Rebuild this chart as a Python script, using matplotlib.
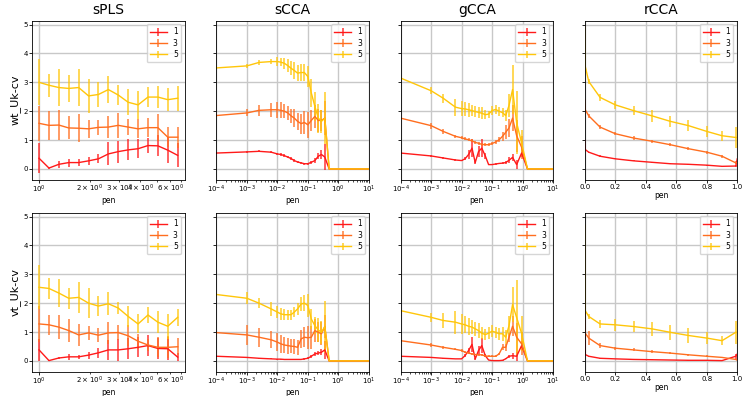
import numpy as np
import matplotlib
matplotlib.use("Agg")
from matplotlib import pyplot as plt

# pen grids for each method
pen_spls = [1.0, 1.145, 1.311, 1.501, 1.719, 1.968, 2.253, 2.58, 2.954, 3.382, 3.873, 4.434, 5.077, 5.813, 6.656]
pen_scca = [1e-4, 1e-3, 2.5e-3, 6.3e-3, 0.01, 0.013, 0.017, 0.022, 0.028, 0.036, 0.046, 0.06, 0.077, 0.1,
            0.13, 0.17, 0.22, 0.28, 0.36, 0.5, 1.0, 10.0]
pen_gcca = [1e-4, 1e-3, 2.5e-3, 6.3e-3, 0.01, 0.013, 0.017, 0.022, 0.028, 0.036, 0.046, 0.06, 0.077, 0.1,
            0.13, 0.17, 0.22, 0.28, 0.36, 0.47, 0.64, 0.93, 1.45, 10.0]
pen_rcca = [0.0, 0.003, 0.026, 0.1, 0.2, 0.32, 0.44, 0.56, 0.68, 0.8, 0.9, 0.99, 1.0]

# sPLS, wt_Uk-cv
spls_wt_1 = [0.37, 0.03, 0.16, 0.22, 0.22, 0.28, 0.35, 0.52, 0.6, 0.66, 0.7, 0.81, 0.8, 0.65, 0.47]
spls_wt_1_err = [0.52, 0.02, 0.12, 0.14, 0.12, 0.15, 0.16, 0.4, 0.38, 0.36, 0.32, 0.26, 0.36, 0.45, 0.42]
spls_wt_3 = [1.58, 1.51, 1.52, 1.42, 1.41, 1.39, 1.44, 1.45, 1.51, 1.45, 1.39, 1.43, 1.43, 1.1, 1.1]
spls_wt_3_err = [0.6, 0.5, 0.51, 0.4, 0.49, 0.31, 0.25, 0.38, 0.43, 0.29, 0.33, 0.33, 0.46, 0.34, 0.37]
spls_wt_5 = [3.0, 2.9, 2.82, 2.79, 2.82, 2.53, 2.58, 2.75, 2.56, 2.31, 2.22, 2.49, 2.49, 2.4, 2.45]
spls_wt_5_err = [0.8, 0.4, 0.63, 0.48, 0.64, 0.58, 0.43, 0.46, 0.35, 0.45, 0.49, 0.36, 0.39, 0.39, 0.44]

# sPLS, vt_Uk-cv
spls_vt_1 = [0.38, 0.01, 0.1, 0.14, 0.14, 0.2, 0.28, 0.38, 0.38, 0.42, 0.47, 0.53, 0.43, 0.42, 0.13]
spls_vt_1_err = [0.38, 0.02, 0.05, 0.1, 0.07, 0.12, 0.17, 0.36, 0.37, 0.36, 0.35, 0.35, 0.38, 0.4, 0.15]
spls_vt_3 = [1.28, 1.25, 1.17, 1.05, 0.9, 0.97, 0.89, 0.97, 0.98, 0.87, 0.68, 0.55, 0.47, 0.47, 0.49]
spls_vt_3_err = [0.62, 0.34, 0.42, 0.39, 0.39, 0.25, 0.25, 0.38, 0.26, 0.36, 0.26, 0.22, 0.35, 0.38, 0.3]
spls_vt_5 = [2.55, 2.51, 2.35, 2.17, 2.2, 2.0, 1.9, 1.98, 1.83, 1.54, 1.28, 1.59, 1.34, 1.2, 1.51]
spls_vt_5_err = [0.76, 0.35, 0.5, 0.36, 0.54, 0.51, 0.36, 0.4, 0.2, 0.36, 0.33, 0.27, 0.38, 0.44, 0.29]

# sCCA, wt_Uk-cv
scca_wt_1 = [0.55, 0.59, 0.61, 0.58, 0.52, 0.5, 0.46, 0.41, 0.36, 0.29, 0.24, 0.21, 0.18, 0.18, 0.23, 0.29,
             0.44, 0.5, 0.41, 0, 0, 0]
scca_wt_1_err = [0.02, 0.03, 0.03, 0.03, 0.04, 0.04, 0.04, 0.04, 0.04, 0.04, 0.04, 0.04, 0.04, 0.04, 0.05,
                 0.08, 0.1, 0.15, 0.45, 0, 0, 0]
scca_wt_3 = [1.85, 1.94, 2.03, 2.05, 2.05, 2.03, 2.0, 1.94, 1.84, 1.76, 1.65, 1.57, 1.61, 1.53, 1.68, 1.82,
             1.68, 1.68, 1.76, 0, 0, 0]
scca_wt_3_err = [0.05, 0.12, 0.2, 0.25, 0.28, 0.28, 0.25, 0.25, 0.25, 0.3, 0.3, 0.35, 0.4, 0.45, 0.35, 0.4,
                 0.4, 0.35, 0.6, 0, 0, 0]
scca_wt_5 = [3.5, 3.57, 3.69, 3.72, 3.72, 3.7, 3.66, 3.58, 3.49, 3.41, 3.32, 3.34, 3.34, 3.2, 2.63, 2.17,
             1.76, 1.65, 1.76, 0, 0, 0]
scca_wt_5_err = [0.05, 0.08, 0.1, 0.1, 0.15, 0.15, 0.2, 0.22, 0.25, 0.28, 0.28, 0.3, 0.3, 0.35, 0.5, 0.5,
                 0.5, 0.4, 0.9, 0, 0, 0]

# sCCA, vt_Uk-cv
scca_vt_1 = [0.16, 0.12, 0.09, 0.07, 0.06, 0.06, 0.05, 0.05, 0.05, 0.05, 0.05, 0.05, 0.07, 0.09, 0.16, 0.24,
             0.27, 0.3, 0.38, 0, 0, 0]
scca_vt_1_err = [0.01, 0.02, 0.02, 0.02, 0.02, 0.02, 0.02, 0.02, 0.02, 0.02, 0.02, 0.02, 0.03, 0.04, 0.06,
                 0.08, 0.08, 0.1, 0.3, 0, 0, 0]
scca_vt_3 = [0.98, 0.9, 0.82, 0.73, 0.65, 0.59, 0.55, 0.53, 0.51, 0.5, 0.47, 0.76, 0.82, 0.8, 0.82, 1.05,
             0.99, 0.94, 1.19, 0, 0, 0]
scca_vt_3_err = [0.05, 0.35, 0.33, 0.3, 0.3, 0.3, 0.28, 0.28, 0.25, 0.25, 0.25, 0.3, 0.35, 0.4, 0.4, 0.4,
                 0.35, 0.4, 0.4, 0, 0, 0]
scca_vt_5 = [2.3, 2.17, 2.0, 1.8, 1.69, 1.63, 1.6, 1.6, 1.6, 1.69, 1.8, 1.97, 2.0, 1.92, 1.45, 1.22,
             1.07, 0.99, 1.19, 0, 0, 0]
scca_vt_5_err = [0.05, 0.2, 0.17, 0.23, 0.2, 0.2, 0.2, 0.18, 0.18, 0.18, 0.2, 0.25, 0.28, 0.4, 0.35, 0.3,
                 0.4, 0.4, 0.9, 0, 0, 0]

# gCCA, wt_Uk-cv
gcca_wt_1 = [0.55, 0.45, 0.38, 0.31, 0.29, 0.35, 0.5, 0.72, 0.22, 0.6, 0.72, 0.45, 0.15, 0.15, 0.17, 0.19,
             0.2, 0.22, 0.3, 0.4, 0.15, 0.55, 0, 0]
gcca_wt_1_err = [0.01, 0.02, 0.02, 0.02, 0.02, 0.05, 0.15, 0.3, 0.05, 0.2, 0.3, 0.1, 0.02, 0.02, 0.02, 0.03,
                 0.03, 0.05, 0.1, 0.12, 0.15, 0.15, 0, 0]
gcca_wt_3 = [1.76, 1.5, 1.3, 1.13, 1.08, 1.04, 1.01, 0.97, 0.92, 0.89, 0.85, 0.84, 0.84, 0.88, 0.93, 1.01,
             1.13, 1.27, 1.42, 1.76, 1.15, 0.75, 0, 0]
gcca_wt_3_err = [0.02, 0.1, 0.08, 0.05, 0.05, 0.05, 0.05, 0.05, 0.05, 0.05, 0.05, 0.05, 0.05, 0.05, 0.06,
                 0.08, 0.15, 0.25, 0.3, 0.45, 0.55, 0.4, 0, 0]
gcca_wt_5 = [3.15, 2.71, 2.45, 2.14, 2.09, 2.08, 2.05, 2.02, 1.99, 1.96, 1.93, 1.88, 1.9, 2.02, 2.06, 2.0,
             1.95, 1.85, 2.2, 2.75, 1.6, 0.9, 0, 0]
gcca_wt_5_err = [0.03, 0.12, 0.15, 0.3, 0.25, 0.25, 0.25, 0.2, 0.2, 0.2, 0.2, 0.15, 0.12, 0.15, 0.15, 0.15,
                 0.15, 0.2, 0.4, 0.85, 1.1, 0.45, 0, 0]

# gCCA, vt_Uk-cv
gcca_vt_1 = [0.16, 0.12, 0.09, 0.07, 0.07, 0.18, 0.36, 0.57, 0.07, 0.36, 0.53, 0.18, 0.03, 0.01, 0.01, 0.01,
             0.02, 0.07, 0.16, 0.18, 0.16, 0.53, 0, 0]
gcca_vt_1_err = [0.01, 0.01, 0.01, 0.01, 0.01, 0.05, 0.1, 0.25, 0.03, 0.15, 0.25, 0.05, 0.01, 0.01, 0.01,
                 0.01, 0.01, 0.02, 0.05, 0.1, 0.15, 0.15, 0, 0]
gcca_vt_3 = [0.7, 0.55, 0.47, 0.4, 0.36, 0.3, 0.27, 0.24, 0.22, 0.21, 0.21, 0.17, 0.16, 0.16, 0.16, 0.24,
             0.47, 0.47, 0.82, 1.2, 0.82, 0.59, 0, 0]
gcca_vt_3_err = [0.02, 0.07, 0.05, 0.04, 0.04, 0.04, 0.04, 0.03, 0.03, 0.03, 0.03, 0.03, 0.03, 0.03, 0.03,
                 0.05, 0.1, 0.12, 0.15, 0.35, 0.5, 0.4, 0, 0]
gcca_vt_5 = [1.74, 1.51, 1.4, 1.34, 1.28, 1.25, 1.2, 1.17, 1.11, 1.05, 0.96, 0.91, 0.96, 1.03, 0.99, 0.94,
             0.94, 0.82, 1.22, 1.95, 1.5, 0.95, 0, 0]
gcca_vt_5_err = [0.03, 0.15, 0.25, 0.4, 0.35, 0.3, 0.3, 0.25, 0.25, 0.25, 0.2, 0.2, 0.2, 0.2, 0.2, 0.2,
                 0.25, 0.25, 0.35, 0.6, 1.3, 0.6, 0, 0]

# rCCA, wt_Uk-cv
rcca_wt_1 = [1.0, 0.67, 0.58, 0.44, 0.35, 0.28, 0.23, 0.18, 0.16, 0.13, 0.09, 0.1, 0.35]
rcca_wt_1_err = [0, 0.02, 0.02, 0.03, 0.02, 0.02, 0.02, 0.02, 0.02, 0.02, 0.02, 0.02, 0]
rcca_wt_3 = [2.4, 2.05, 1.84, 1.45, 1.22, 1.07, 0.96, 0.84, 0.7, 0.58, 0.44, 0.21, 0.21]
rcca_wt_3_err = [0, 0.05, 0.08, 0.06, 0.05, 0.06, 0.05, 0.05, 0.05, 0.05, 0.05, 0.05, 0]
rcca_wt_5 = [4.9, 3.55, 3.03, 2.48, 2.22, 2.02, 1.84, 1.65, 1.5, 1.3, 1.15, 1.09, 1.09]
rcca_wt_5_err = [0, 0.05, 0.1, 0.12, 0.15, 0.15, 0.2, 0.2, 0.2, 0.2, 0.17, 0.35, 0]

# rCCA, vt_Uk-cv
rcca_vt_1 = [1.0, 0.22, 0.16, 0.09, 0.07, 0.05, 0.04, 0.03, 0.02, 0.02, 0.01, 0.16, 0.24]
rcca_vt_1_err = [0, 0.02, 0.02, 0.01, 0.01, 0.01, 0.01, 0.01, 0.01, 0.01, 0.01, 0.08, 0]
rcca_vt_3 = [2.0, 0.96, 0.79, 0.53, 0.44, 0.38, 0.32, 0.27, 0.21, 0.16, 0.12, 0.05, 0.02]
rcca_vt_3_err = [0, 0.05, 0.25, 0.1, 0.05, 0.05, 0.05, 0.04, 0.04, 0.03, 0.03, 0.03, 0]
rcca_vt_5 = [4.7, 1.74, 1.54, 1.28, 1.25, 1.19, 1.11, 0.99, 0.88, 0.79, 0.7, 0.99, 0.99]
rcca_vt_5_err = [0, 0.05, 0.1, 0.15, 0.2, 0.2, 0.25, 0.25, 0.25, 0.2, 0.15, 0.4, 0]

methods = ["sPLS", "sCCA", "gCCA", "rCCA"]
row_labels = ["wt_Uk-cv", "vt_Uk-cv"]
comp_labels = ["1", "3", "5"]
colors = ["#ff1a1a", "#ff6e1f", "#ffc60a"]

pens = [pen_spls, pen_scca, pen_gcca, pen_rcca]
panels = [
    [
        [(spls_wt_1, spls_wt_1_err), (spls_wt_3, spls_wt_3_err), (spls_wt_5, spls_wt_5_err)],
        [(scca_wt_1, scca_wt_1_err), (scca_wt_3, scca_wt_3_err), (scca_wt_5, scca_wt_5_err)],
        [(gcca_wt_1, gcca_wt_1_err), (gcca_wt_3, gcca_wt_3_err), (gcca_wt_5, gcca_wt_5_err)],
        [(rcca_wt_1, rcca_wt_1_err), (rcca_wt_3, rcca_wt_3_err), (rcca_wt_5, rcca_wt_5_err)],
    ],
    [
        [(spls_vt_1, spls_vt_1_err), (spls_vt_3, spls_vt_3_err), (spls_vt_5, spls_vt_5_err)],
        [(scca_vt_1, scca_vt_1_err), (scca_vt_3, scca_vt_3_err), (scca_vt_5, scca_vt_5_err)],
        [(gcca_vt_1, gcca_vt_1_err), (gcca_vt_3, gcca_vt_3_err), (gcca_vt_5, gcca_vt_5_err)],
        [(rcca_vt_1, rcca_vt_1_err), (rcca_vt_3, rcca_vt_3_err), (rcca_vt_5, rcca_vt_5_err)],
    ],
]

fig, axes = plt.subplots(2, 4, figsize=(7.47, 3.96), dpi=100, sharey=True)
fig.subplots_adjust(left=0.043, right=0.987, top=0.948, bottom=0.061, wspace=0.208, hspace=0.205)

for r in range(2):
    for c in range(4):
        ax = axes[r, c]
        x = pens[c]
        for k, (y, e) in enumerate(panels[r][c]):
            _, _, bars = ax.errorbar(x, y, yerr=e, color=colors[k], lw=1.0, elinewidth=1.3,
                                     label=comp_labels[k])
            for b in bars:
                b.set_alpha(0.75)
        if c in (1, 2):
            ax.set_xscale("log")
            ax.set_xlim(1e-4, 10)
        elif c == 0:
            ax.set_xscale("log")
        else:
            ax.set_xlim(0, 1)
        ax.set_ylim(-0.38, 5.14)
        ax.set_yticks([0, 1, 2, 3, 4, 5])
        ax.grid(True, color="#c8c8c8", lw=1.0)
        ax.tick_params(labelsize=5, length=2, width=0.6, pad=1)
        ax.tick_params(which="minor", labelsize=5, length=1.3, width=0.5, pad=1)
        ax.set_xlabel("pen", fontsize=5.5, labelpad=0.5)
        ax.legend(loc="upper right", fontsize=5.5, handlelength=2.2, borderpad=0.4, labelspacing=0.3)
        for s in ax.spines.values():
            s.set_linewidth(0.6)
        if r == 0:
            ax.set_title(methods[c], fontsize=10, pad=5)
        if c == 0:
            ax.set_ylabel(row_labels[r], fontsize=8, labelpad=2)

fig.savefig("out.png", dpi=100)
